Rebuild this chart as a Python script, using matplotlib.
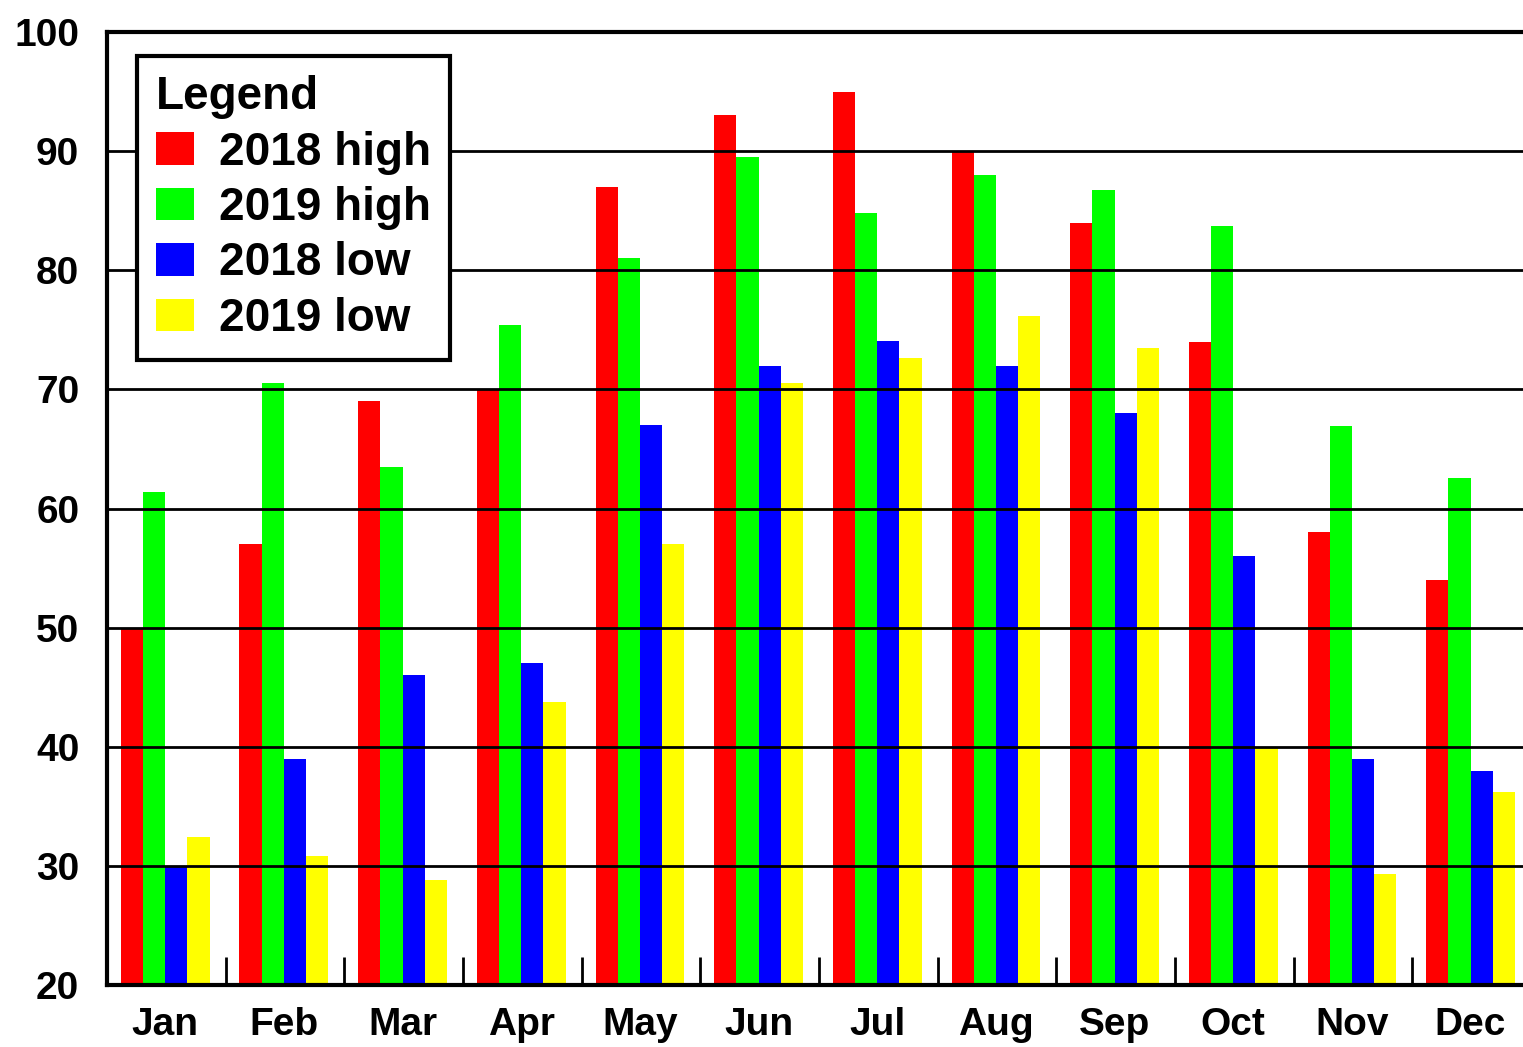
import numpy as np
import matplotlib
matplotlib.use("Agg")
import matplotlib.pyplot as plt
from matplotlib.ticker import FixedLocator

# monthly temperatures, two years, highs and lows
months = ["Jan", "Feb", "Mar", "Apr", "May", "Jun",
          "Jul", "Aug", "Sep", "Oct", "Nov", "Dec"]
high_2018 = [50, 57, 69, 70, 87, 93, 95, 90, 84, 74, 58, 54]
high_2019 = [61.4, 70.5, 63.5, 75.4, 81, 89.5, 84.8, 88, 86.7, 83.7, 66.9, 62.6]
low_2018 = [30, 39, 46, 47, 67, 72, 74.1, 72, 68, 56, 39, 38]
low_2019 = [32.4, 30.8, 28.8, 43.8, 57, 70.5, 72.6, 76.2, 73.5, 40, 29.3, 36.2]

series = [("2018 high", high_2018, "#ff0000"),
          ("2019 high", high_2019, "#00ff00"),
          ("2018 low", low_2018, "#0000ff"),
          ("2019 low", low_2019, "#ffff00")]

plt.rcParams['font.family'] = ['Liberation Sans', 'DejaVu Sans']
plt.rcParams['font.weight'] = 'bold'

fig = plt.figure(figsize=(15.23, 10.47), dpi=100)
ax = fig.add_axes([0.0703, 0.0592, 0.935, 0.9102])

x = np.arange(len(months)) + 0.49
w = 0.187
for k, (name, vals, col) in enumerate(series):
    ax.bar(x + (k - 1.5) * w, np.array(vals) - 20, bottom=20, width=w,
           color=col, label=name, zorder=1, linewidth=0)

# horizontal grid on top of the bars
for yv in range(30, 100, 10):
    ax.axhline(yv, color="black", lw=2, zorder=2)

ax.set_xlim(0, 12)
ax.set_ylim(20, 100)
ax.set_yticks(range(20, 101, 10))
ax.tick_params(axis="y", length=0, pad=20, labelsize=28)
ax.set_xticks(x)
ax.set_xticklabels(months)
ax.tick_params(axis="x", which="major", length=0, pad=16, labelsize=28)
ax.xaxis.set_minor_locator(FixedLocator(np.arange(1, 12)))
ax.tick_params(axis="x", which="minor", direction="in", length=20, width=2)

for s in ["left", "top", "bottom"]:
    ax.spines[s].set_linewidth(3)
ax.spines["right"].set_visible(False)

leg = ax.legend(title="Legend", loc="upper left", bbox_to_anchor=(0.021, 0.975),
                fontsize=33, title_fontsize=33, alignment="left",
                fancybox=False, framealpha=1, edgecolor="black",
                handlelength=0.82, handleheight=0.72, handletextpad=0.55,
                labelspacing=0.25, borderpad=0.42, borderaxespad=0)
leg.get_frame().set_linewidth(3)
leg.set_zorder(5)
plt.setp(leg.get_title(), fontweight="bold")

fig.savefig("out.png", dpi=100)
